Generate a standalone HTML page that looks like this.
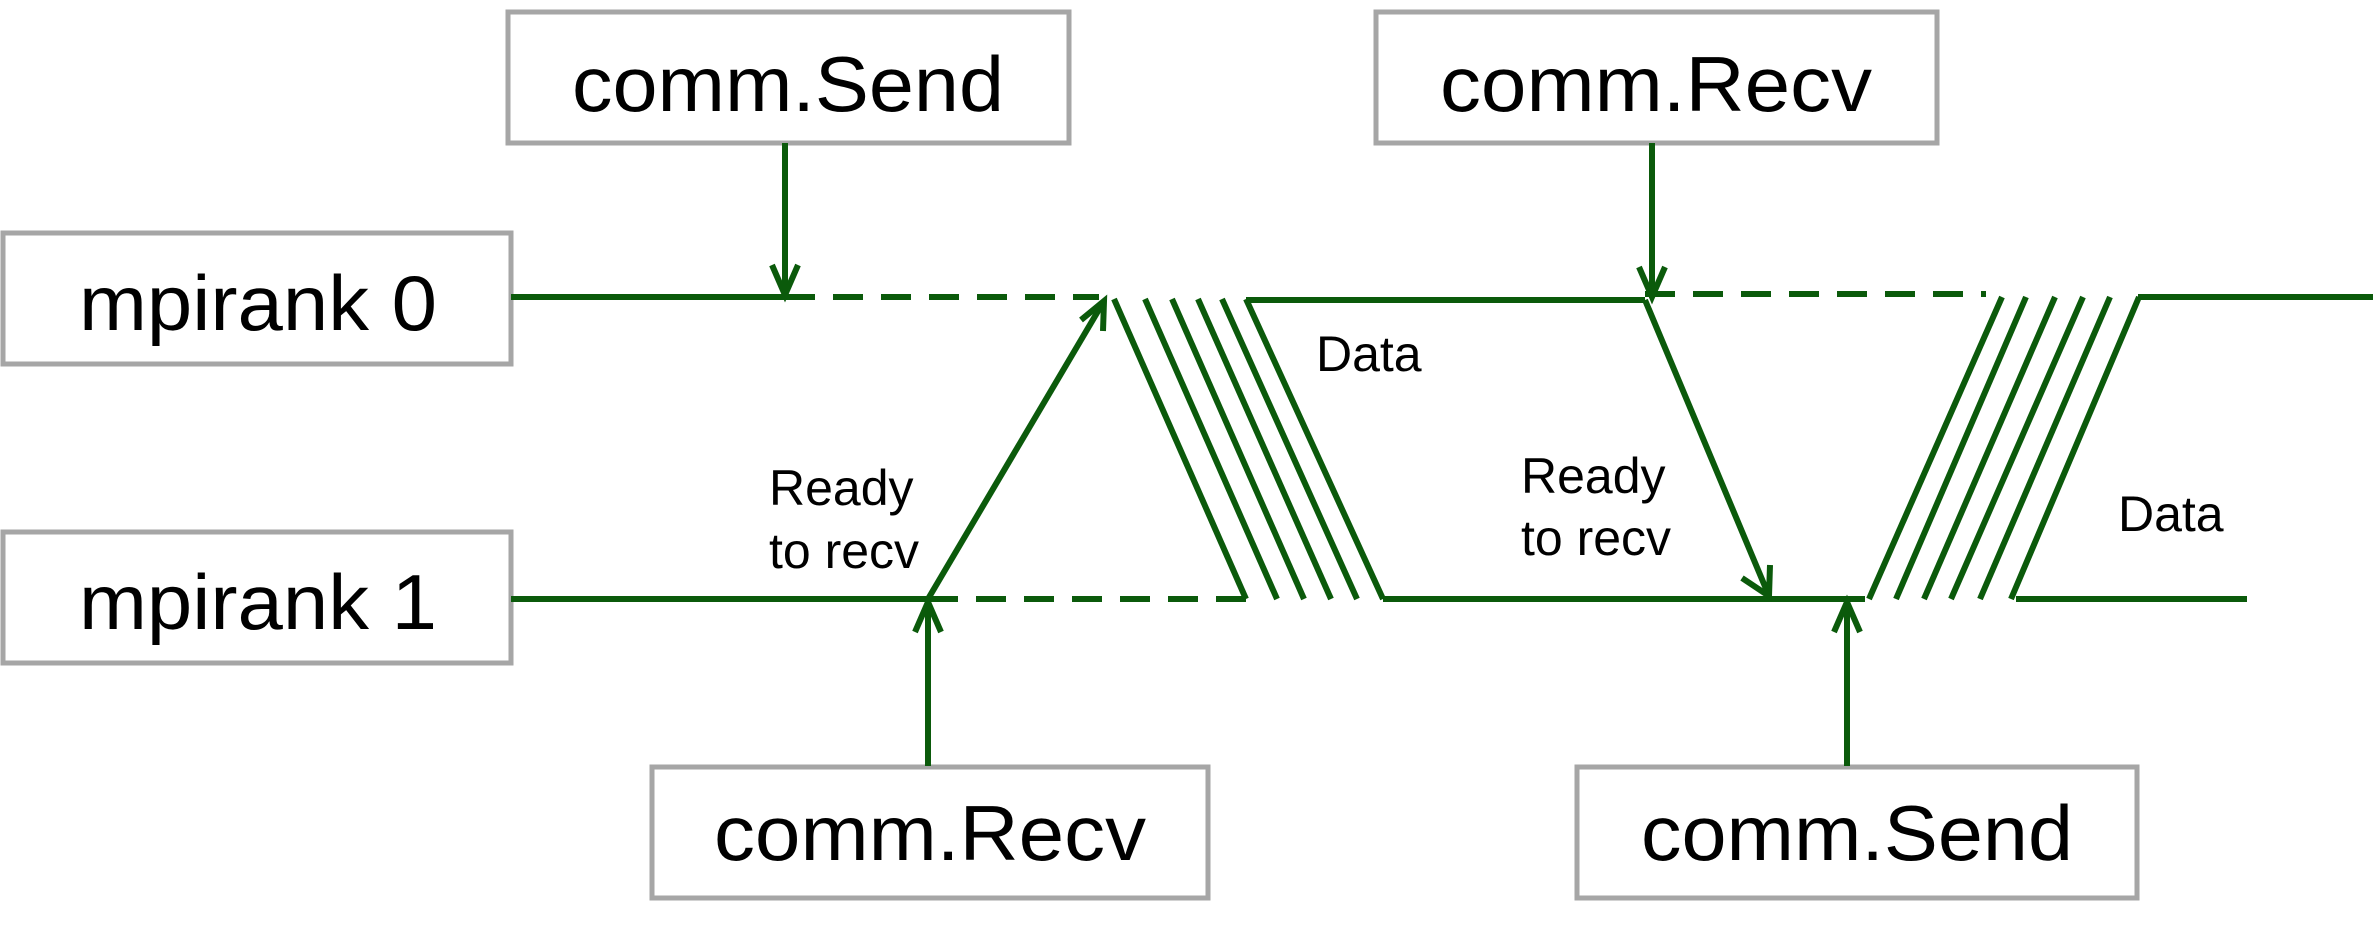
<!DOCTYPE html>
<html><head><meta charset="utf-8"><style>html,body{margin:0;padding:0;background:#fff}svg{display:block}</style></head>
<body>
<svg width="2377" height="931" viewBox="0 0 2377 931" xmlns="http://www.w3.org/2000/svg">
<g fill="#fff" stroke="#a6a6a6" stroke-width="5">
<rect x="508" y="12" width="561" height="131"/>
<rect x="1376" y="12" width="561" height="131"/>
<rect x="3" y="233" width="508" height="131"/>
<rect x="3" y="532" width="508" height="131"/>
<rect x="652" y="767" width="556" height="131"/>
<rect x="1577" y="767" width="560" height="131"/>
</g>
<g font-family="Liberation Sans, sans-serif" fill="#000" text-anchor="middle">
<text x="788" y="111" font-size="78" textLength="432" lengthAdjust="spacingAndGlyphs">comm.Send</text>
<text x="1656" y="111" font-size="78" textLength="432" lengthAdjust="spacingAndGlyphs">comm.Recv</text>
<text x="258" y="330" font-size="78" textLength="358" lengthAdjust="spacingAndGlyphs">mpirank 0</text>
<text x="258" y="629" font-size="78" textLength="358" lengthAdjust="spacingAndGlyphs">mpirank 1</text>
<text x="930" y="860" font-size="78" textLength="432" lengthAdjust="spacingAndGlyphs">comm.Recv</text>
<text x="1857" y="860" font-size="78" textLength="432" lengthAdjust="spacingAndGlyphs">comm.Send</text>
</g>
<g font-family="Liberation Sans, sans-serif" fill="#000" font-size="50">
<text x="1316" y="371">Data</text>
<text x="769" y="505">Ready</text>
<text x="769" y="568">to recv</text>
<text x="1521" y="493">Ready</text>
<text x="1521" y="555">to recv</text>
<text x="2118" y="531">Data</text>
</g>
<g stroke="#0b5a0b" stroke-width="6" fill="none">
<line x1="511" y1="297" x2="785" y2="297"/>
<line x1="785" y1="297" x2="1099" y2="297" stroke-dasharray="30 18"/>
<line x1="1246" y1="300" x2="1645" y2="300"/>
<line x1="1645" y1="294" x2="1986" y2="294" stroke-dasharray="30 18"/>
<line x1="2138" y1="297" x2="2373" y2="297"/>
<line x1="511" y1="599" x2="928" y2="599"/>
<line x1="928" y1="599" x2="1246" y2="599" stroke-dasharray="30 18"/>
<line x1="1383" y1="599" x2="1865" y2="599"/>
<line x1="2016" y1="599" x2="2247" y2="599"/>
<!-- hatch 1 -->
<line x1="1114" y1="299" x2="1246" y2="599"/>
<line x1="1145" y1="299" x2="1277" y2="599"/>
<line x1="1172" y1="299" x2="1304" y2="599"/>
<line x1="1198" y1="299" x2="1331" y2="599"/>
<line x1="1222" y1="299" x2="1357" y2="599"/>
<line x1="1246" y1="299" x2="1383" y2="599"/>
<!-- hatch 2 -->
<line x1="2002" y1="297" x2="1869" y2="599"/>
<line x1="2026" y1="297" x2="1896" y2="599"/>
<line x1="2055" y1="297" x2="1924" y2="599"/>
<line x1="2083" y1="297" x2="1951" y2="599"/>
<line x1="2110" y1="297" x2="1980" y2="599"/>
<line x1="2139" y1="297" x2="2011" y2="599"/>
<!-- arrows -->
<line x1="785" y1="143" x2="785" y2="295"/>
<polyline points="772,265 785,295 798,265"/>
<line x1="1652" y1="143" x2="1652" y2="297"/>
<polyline points="1639,267 1652,297 1665,267"/>
<line x1="928" y1="599" x2="1104" y2="301"/>
<polyline points="1081,320 1104,301 1103,331"/>
<line x1="1645" y1="300" x2="1769" y2="596"/>
<polyline points="1742,578 1769,596 1770,565"/>
<line x1="928" y1="766" x2="928" y2="602"/>
<polyline points="915,632 928,602 941,632"/>
<line x1="1847" y1="766" x2="1847" y2="602"/>
<polyline points="1834,632 1847,602 1860,632"/>
</g>
</svg>
</body></html>
